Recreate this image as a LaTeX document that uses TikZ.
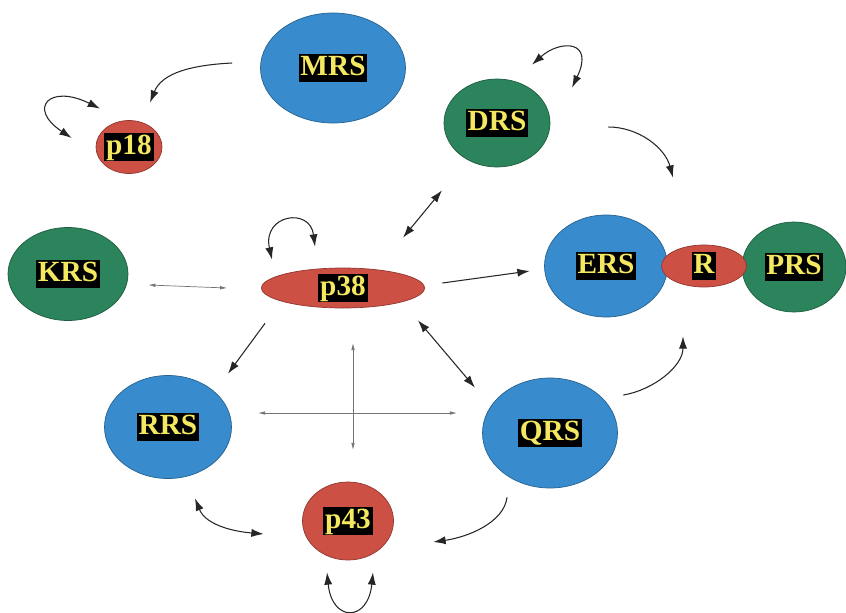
\documentclass[tikz,border=0pt]{standalone}
\usepackage{fontspec}
\setmainfont{Liberation Serif}
\usetikzlibrary{shapes.geometric,arrows.meta}

\definecolor{rsblue}{RGB}{56,140,205}
\definecolor{rsgreen}{RGB}{44,132,92}
\definecolor{rsred}{RGB}{205,80,68}
\definecolor{rsyellow}{RGB}{244,232,96}

\tikzset{
	rs/.style={ellipse, inner sep=0pt, draw=#1!70!black, fill=#1, line width=0.6pt},
	size/.style 2 args={minimum width=#1*0.03cm, minimum height=#2*0.03cm},
	tag/.style={fill=black, text=rsyellow, font=\fontsize{25}{25}\selectfont\bfseries, inner sep=1.5pt, text height=17pt, text depth=3.5pt},
	link/.style={line width=0.9pt, draw=black!85},
	faint/.style={line width=0.6pt, draw=black!55, {Latex[length=6pt,width=3pt]}-{Latex[length=6pt,width=3pt]}}
}

\begin{document}
\begin{tikzpicture}[x=0.03cm, y=-0.03cm, >={Latex[length=10.5pt,width=7pt]}]
		\useasboundingbox (0,0) rectangle (846,612);
		
		% Top row
		\node[rs=rsblue, size={145}{110}] (mrs) at (333,68) {};
		\node[tag] at (mrs) {MRS};
		\node[rs=rsred, size={66}{53}] (p18) at (129,147) {};
		\node[tag] at (p18) {p18};
		\node[rs=rsgreen, size={106}{88}] (drs) at (497,123) {};
		\node[tag] at (drs) {DRS};
		
		% Middle row
		\node[rs=rsgreen, size={120}{93}] (krs) at (68,274) {};
		\node[tag] at (krs) {KRS};
		\node[rs=rsred, size={163}{40}] (p38) at (343,288) {};
		\node[tag] at (p38) {p38};
		\node[rs=rsblue, size={123}{102}] (ers) at (606,266) {};
		\node[tag] at (ers) {ERS};
		\node[rs=rsgreen, size={104}{90}] (prs) at (794,267) {};
		\node[tag] at (prs) {PRS};
		\node[rs=rsred, size={85}{42}] (r) at (704,266) {};
		\node[tag] at (r) {R};
		
		% Bottom row
		\node[rs=rsblue, size={127}{103}] (rrs) at (168,427) {};
		\node[tag] at (rrs) {RRS};
		\node[rs=rsblue, size={135}{110}] (qrs) at (550,433) {};
		\node[tag] at (qrs) {QRS};
		\node[rs=rsred, size={91}{78}] (p43) at (348,521) {};
		\node[tag] at (p43) {p43};
		
		% Curved arrows
		\draw[link, ->] ([shift={(-28,-5)}]mrs.west) .. controls +(-40,2) and +(12,-30) .. ([shift={(21,-17.5)}]p18.north);
		\draw[link, <->] ([shift={(-29,-11.5)}]p18.north) .. controls +(-50,-25) and +(-45,-30) .. ([shift={(-24,-9)}]p18.west);
		\draw[link, <->] ([shift={(35,-14)}]drs.north) .. controls +(28,-25) and +(23,-48) .. ([shift={(75,9)}]drs.north);
		\draw[link, ->] ([shift={(58,4)}]drs.east) .. controls +(30,0) and +(-8,-30) .. ([shift={(67,-37)}]ers.north);
		\draw[link, <->] ([shift={(-71,-8)}]p38.north) .. controls +(-10,-45) and +(-5,-40) .. ([shift={(-28,-21)}]p38.north);
		\draw[link, ->] ([shift={(5.5,-38)}]qrs.east) .. controls +(30,-5) and +(0,30) .. ([shift={(77,19)}]ers.south);
		\draw[link, ->] ([shift={(-43,9)}]qrs.south) .. controls +(-3,25) and +(35,-5) .. ([shift={(39.5,21)}]p43.east);
		\draw[link, <->] ([shift={(27,19.5)}]rrs.south) .. controls +(10,25) and +(-35,-3) .. ([shift={(-38.5,13)}]p43.west);
		\draw[link, <->] ([shift={(-21,12)}]p43.south) .. controls +(5,50) and +(-5,50) .. ([shift={(25,12)}]p43.south);
		
		% Straight arrows
		\draw[link, <->] ([shift={(60,-30)}]p38.north) -- ([shift={(-55,23)}]drs.south);
		\draw[link, ->] ([shift={(17.5,-5)}]p38.east) -- ([shift={(-14.5,5)}]ers.west);
		\draw[link, ->] ([shift={(-78,15)}]p38.south) -- ([shift={(60,-1.5)}]rrs.north);
		\draw[link, <->] ([shift={(75,12)}]p38.south) -- ([shift={(-75,10)}]qrs.north);
		\draw[faint] ([shift={(20,11)}]krs.east) -- ([shift={(-34,0)}]p38.west);
		
		% Cross
		\coordinate (cross) at (353,413);
		\draw[faint] ([shift={(-95,0)}]cross) -- ([shift={(104,0)}]cross);
		\draw[faint] ([shift={(0,-70)}]cross) -- ([shift={(0,37)}]cross);
	\end{tikzpicture}
\end{document}
